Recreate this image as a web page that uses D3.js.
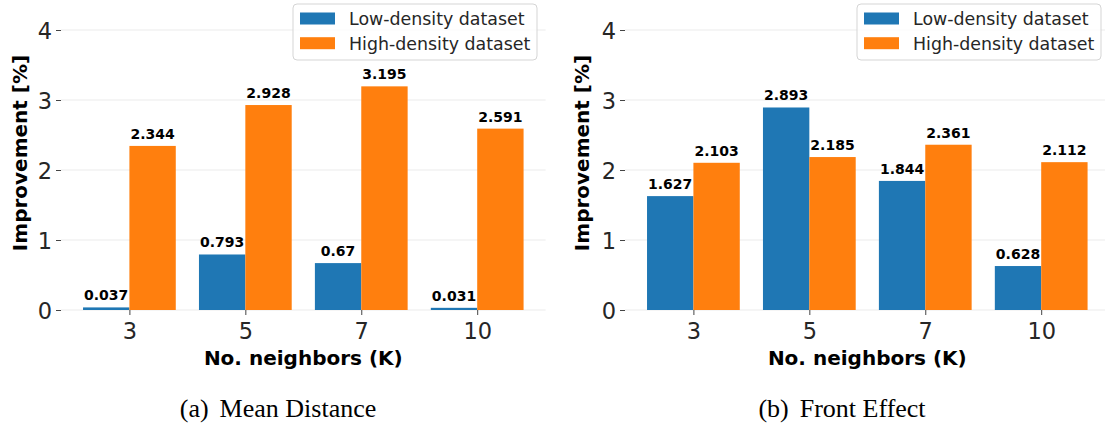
<!DOCTYPE html>
<html><head><meta charset="utf-8">
<script src="https://cdn.jsdelivr.net/npm/d3@7"></script>
<style>
html,body{margin:0;padding:0;background:#fff;}
svg{display:block;}
</style>
</head><body>
<svg id="chart" width="1105" height="427"></svg>
<script>
// ---- data ----
const categories = ["3", "5", "7", "10"];
const seriesNames = ["Low-density dataset", "High-density dataset"];
const meanDistanceLow = [0.037, 0.793, 0.67, 0.031];
const meanDistanceHigh = [2.344, 2.928, 3.195, 2.591];
const frontEffectLow = [1.627, 2.893, 1.844, 0.628];
const frontEffectHigh = [2.103, 2.185, 2.361, 2.112];
const yTicks = [0, 1, 2, 3, 4];
const captionTags = ["(a)", "(b)"];
const captionTexts = ["Mean Distance", "Front Effect"];
const xTitle = "No. neighbors (K)";
const yTitle = "Improvement [%]";

const colors = ["#1f77b4", "#ff7f0e"];
const svg = d3.select("#chart");
const font = "DejaVu Sans, sans-serif";
const textColor = "#262626";

const panels = [
  {low: meanDistanceLow, high: meanDistanceHigh, left: 61, ylabX: 20, capX: 278, legX: 293, tag: captionTags[0], cap: captionTexts[0]},
  {low: frontEffectLow, high: frontEffectHigh, left: 625, ylabX: 582, capX: 842, legX: 857, tag: captionTags[1], cap: captionTexts[1]}
];

const y = d3.scaleLinear().domain([0, 4]).range([310, 30]);

panels.forEach(p => {
  const x = d3.scaleLinear().domain([-0.59, 3.59]).range([p.left, p.left + 484.6]);
  const g = svg.append("g");

  // gridlines
  g.append("g").selectAll("line").data(yTicks).join("line")
    .attr("x1", x(-0.59)).attr("x2", x(3.59))
    .attr("y1", d => y(d)).attr("y2", d => y(d))
    .attr("stroke", "#ebebeb").attr("stroke-width", 1);

  // y axis
  const ya = g.append("g").attr("transform", `translate(${p.left},0)`)
    .call(d3.axisLeft(y).tickValues(yTicks).tickSize(5).tickPadding(4).tickFormat(d3.format("d")));
  ya.select(".domain").remove();
  ya.selectAll(".tick line").attr("stroke", "#444").attr("stroke-width", 1);
  ya.selectAll(".tick text").attr("font-family", font).attr("font-size", 22.5).attr("fill", textColor).attr("dy", "0.38em");

  // x axis
  const xa = g.append("g").attr("transform", `translate(0,${y(0)})`)
    .call(d3.axisBottom(x).tickValues(d3.range(categories.length)).tickSize(5).tickPadding(8).tickFormat(i => categories[i]));
  xa.select(".domain").remove();
  xa.selectAll(".tick line").attr("stroke", "#444").attr("stroke-width", 1);
  xa.selectAll(".tick text").attr("font-family", font).attr("font-size", 22.5).attr("fill", textColor);

  // bars
  const series = [p.low, p.high];
  series.forEach((vals, s) => {
    const off = s === 0 ? -0.4 : 0;
    g.append("g").selectAll("rect").data(vals).join("rect")
      .attr("x", (d, i) => x(i + off))
      .attr("width", x(0.4) - x(0))
      .attr("y", d => y(d))
      .attr("height", d => y(0) - y(d))
      .attr("fill", colors[s]);
    g.append("g").selectAll("text").data(vals).join("text")
      .attr("x", (d, i) => x(i + off + 0.2))
      .attr("y", d => y(d) - 7)
      .attr("text-anchor", "middle")
      .attr("font-family", font).attr("font-weight", "bold").attr("font-size", 14)
      .attr("fill", "#000")
      .text(d => String(d));
  });

  // axis titles
  g.append("text").attr("x", (x(-0.59) + x(3.59)) / 2).attr("y", 365)
    .attr("text-anchor", "middle").attr("font-family", font).attr("font-weight", "bold")
    .attr("font-size", 20).attr("fill", "#000").text(xTitle);
  g.append("text").attr("transform", `translate(${p.ylabX + 7},153) rotate(-90)`)
    .attr("text-anchor", "middle").attr("font-family", font).attr("font-weight", "bold")
    .attr("font-size", 20).attr("fill", "#000").text(yTitle);

  // caption
  const cap = g.append("text").attr("x", p.capX).attr("y", 417).attr("text-anchor", "middle")
    .attr("font-family", "Liberation Serif, Times New Roman, serif").attr("font-size", 26).attr("fill", "#000");
  cap.append("tspan").text(p.tag);
  cap.append("tspan").attr("dx", 11).text(p.cap);

  // legend
  const lg = g.append("g").attr("transform", `translate(${p.legX},4)`);
  lg.append("rect").attr("width", 244).attr("height", 56).attr("rx", 4)
    .attr("fill", "#fff").attr("fill-opacity", 0.8).attr("stroke", "#d5d5d5").attr("stroke-width", 1);
  seriesNames.forEach((n, s) => {
    lg.append("rect").attr("x", 7).attr("y", 8.5 + s * 24.7).attr("width", 35).attr("height", 12).attr("fill", colors[s]);
    lg.append("text").attr("x", 56).attr("y", 21 + s * 25).attr("font-family", font).attr("font-size", 17.4)
      .attr("fill", textColor).text(n);
  });
});
</script>
</body></html>
